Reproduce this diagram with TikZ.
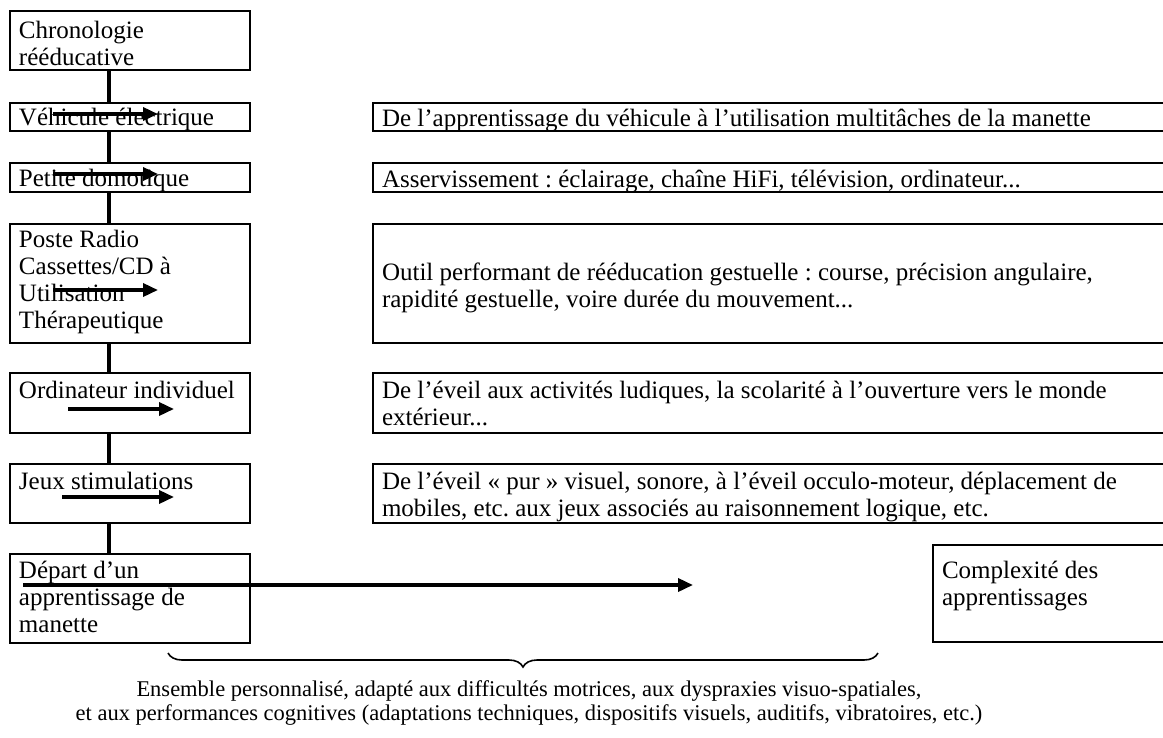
\documentclass[tikz,border=0pt]{standalone}
\usepackage{fontspec}
\setmainfont{Liberation Serif}
\usetikzlibrary{arrows.meta,decorations.pathreplacing}
\frenchspacing
\newcommand{\bxt}[4]{\parbox[t][#2pt][t]{#1pt}{\raggedright\leftskip=9pt\rule{0pt}{#3pt}#4}}
\begin{document}
\begin{tikzpicture}[x=1pt,y=-1pt,
  box/.style={draw, line width=2pt, anchor=north west, inner sep=0pt, fill=white,
    font=\fontsize{25}{27}\selectfont},
  vline/.style={line width=4pt},
  arr/.style={line width=3.5pt, -{Triangle[length=15pt,width=13pt]}},
  bracestyle/.style={decorate, decoration={brace, mirror, amplitude=14pt}, line width=1.6pt}]
\clip (0,0) rectangle (1163,737);
% left column
\node[box] (chrono) at (9,10)  {\bxt{240}{59}{27}{Chronologie\\rééducative}};
\node[box] (vehic)  at (9,102) {\bxt{240}{28}{22}{Véhicule électrique}};
\node[box] (petite) at (9,162) {\bxt{240}{29}{23}{Petite domotique}};
\node[box] (poste)  at (9,223) {\bxt{240}{119}{23}{Poste Radio\\Cassettes/CD à\\Utilisation\\Thérapeutique}};
\node[box] (ordi)   at (9,372) {\bxt{240}{60}{25}{Ordinateur individuel}};
\node[box] (jeux)   at (9,463) {\bxt{240}{59}{25}{Jeux stimulations}};
\node[box] (depart) at (9,553) {\bxt{240}{89}{24}{Départ d’un\\apprentissage de\\manette}};
% right column
\node[box] (r1) at (372,102) {\bxt{800}{28}{23}{De l’apprentissage du véhicule à l’utilisation multitâches de la manette}};
\node[box] (r2) at (372,162) {\bxt{800}{29}{24}{Asservissement : éclairage, chaîne HiFi, télévision, ordinateur...}};
\node[box] (r3) at (372,223) {\bxt{800}{119}{56}{Outil performant de rééducation gestuelle : course, précision angulaire,\\rapidité gestuelle, voire durée du mouvement...}};
\node[box] (r4) at (372,372) {\bxt{800}{60}{25}{De l’éveil aux activités ludiques, la scolarité à l’ouverture vers le monde\\extérieur...}};
\node[box] (r5) at (372,463) {\bxt{800}{59}{25}{De l’éveil « pur » visuel, sonore, à l’éveil occulo-moteur, déplacement de\\mobiles, etc. aux jeux associés au raisonnement logique, etc.}};
\node[box] (complex) at (932,544) {\bxt{240}{97}{33}{Complexité des\\apprentissages}};
% vertical spine
\coordinate (vx) at (109,0);
\draw[vline] (chrono.south -| vx) -- (vehic.north -| vx);
\draw[vline] (vehic.south -| vx) -- (petite.north -| vx);
\draw[vline] (petite.south -| vx) -- (poste.north -| vx);
\draw[vline] (poste.south -| vx) -- (ordi.north -| vx);
\draw[vline] (ordi.south -| vx) -- (jeux.north -| vx);
\draw[vline] (jeux.south -| vx) -- (depart.north -| vx);
% arrows
\coordinate (a1s) at (53,114);  \coordinate (a1e) at (158,114);
\coordinate (a2s) at (53,174);  \coordinate (a2e) at (158,174);
\coordinate (a3s) at (53,290);  \coordinate (a3e) at (158,290);
\coordinate (a4s) at (68,409);  \coordinate (a4e) at (174,409);
\coordinate (a5s) at (62,497);  \coordinate (a5e) at (174,497);
\coordinate (a6s) at (23,585);  \coordinate (a6e) at (693,585);
\draw[arr] (a1s) -- (a1e);
\draw[arr] (a2s) -- (a2e);
\draw[arr] (a3s) -- (a3e);
\draw[arr] (a4s) -- (a4e);
\draw[arr] (a5s) -- (a5e);
\draw[arr] (a6s) -- (a6e);
% brace and caption
\coordinate (br1) at (168,653);
\coordinate (br2) at (878,653);
\draw[bracestyle] (br1) -- (br2);
\node[align=center, font=\fontsize{22.5}{24}\selectfont, inner sep=0pt] (ens) at (529,703)
  {Ensemble personnalisé, adapté aux difficultés motrices, aux dyspraxies visuo-spatiales,\\
   et aux performances cognitives (adaptations techniques, dispositifs visuels, auditifs, vibratoires, etc.)};
\end{tikzpicture}
\end{document}
